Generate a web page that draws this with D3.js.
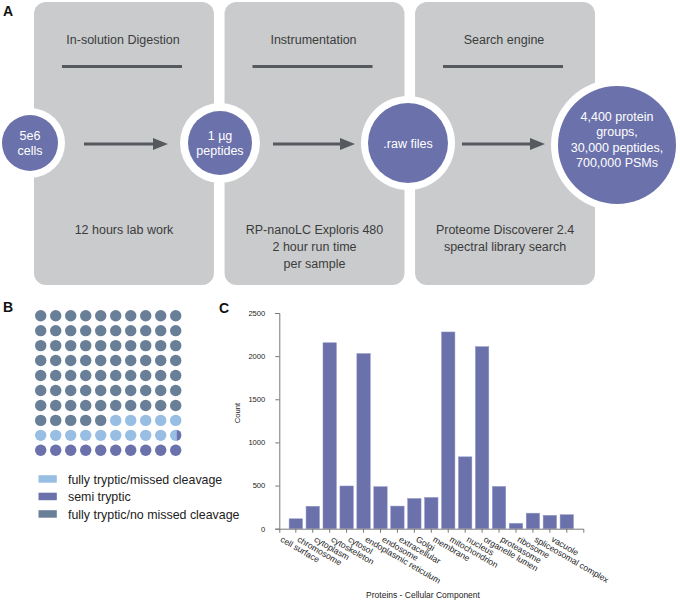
<!DOCTYPE html>
<html>
<head>
<meta charset="utf-8">
<script src="https://cdn.jsdelivr.net/npm/d3@7"></script>
<style>
  html, body { margin: 0; padding: 0; background: #fff; }
  svg { display: block; font-family: "Liberation Sans", Arial, sans-serif; }
</style>
</head>
<body>
<svg id="fig" width="680" height="602"></svg>
<script>
// ---------------- DATA ----------------
// Panel A: workflow
const stepTitles = ["In-solution Digestion", "Instrumentation", "Search engine"];
const stepNotes = [
  ["12 hours lab work"],
  ["RP-nanoLC Exploris 480", "2 hour run time", "per sample"],
  ["Proteome Discoverer 2.4", "spectral library search"]
];
const nodeLabels = [
  ["5e6", "cells"],
  ["1 \u00b5g", "peptides"],
  [".raw files"],
  ["4,400 protein", "groups,", "30,000 peptides,", "700,000 PSMs"]
];

// Panel B: waffle (percent of peptides)
const waffleCategories = ["semi tryptic", "fully tryptic/missed cleavage", "fully tryptic/no missed cleavage"];
const waffleValues = [10.4, 14.6, 75.0];
const legendOrder = ["fully tryptic/missed cleavage", "semi tryptic", "fully tryptic/no missed cleavage"];

// Panel C: cellular component counts
const components = ["cell surface", "chromosome", "cytoplasm", "cytoskeleton", "cytosol",
  "endoplasmic reticulum", "endosome", "extracellular", "Golgi", "membrane", "mitochondrion",
  "nucleus", "organelle lumen", "proteasome", "ribosome", "spliceosomal complex", "vacuole"];
const counts = [115, 260, 2155, 495, 2030, 487, 262, 350, 362, 2280, 833, 2110, 490, 62, 180, 155, 162];
const countTicks = [0, 500, 1000, 1500, 2000, 2500];

// ---------------- STYLE ----------------
const purple = "#6b71ab";
const boxGray = "#c9cbcd";
const ink = "#3c3c3c";
const lineGray = "#56595d";
const waffleColors = d3.scaleOrdinal()
  .domain(waffleCategories)
  .range(["#6b71ab", "#98bfe3", "#697f98"]);

const svg = d3.select("#fig");

// panel letters
svg.selectAll("text.panel").data([["A", 3, 16], ["B", 3, 312], ["C", 219, 313]])
  .join("text").attr("class", "panel")
  .attr("x", d => d[1]).attr("y", d => d[2])
  .attr("font-size", 14).attr("font-weight", "bold").attr("fill", "#111")
  .text(d => d[0]);

// ---------------- PANEL A ----------------
const A = svg.append("g");
const boxX = d3.scaleBand().domain(d3.range(stepTitles.length)).range([34, 595]).paddingInner(0.0555);
const boxTop = 2, boxBottom = 285;

const boxes = A.selectAll("g.step").data(stepTitles).join("g").attr("class", "step");
boxes.append("rect")
  .attr("x", (d, i) => boxX(i)).attr("y", boxTop)
  .attr("width", boxX.bandwidth()).attr("height", boxBottom - boxTop)
  .attr("rx", 12).attr("ry", 12).attr("fill", boxGray);
boxes.append("text")
  .attr("x", (d, i) => boxX(i) + boxX.bandwidth() / 2 - 1).attr("y", 44)
  .attr("text-anchor", "middle").attr("font-size", 12.5).attr("fill", ink)
  .text(d => d);
boxes.append("line")
  .attr("x1", (d, i) => boxX(i) + boxX.bandwidth() / 2 - 62)
  .attr("x2", (d, i) => boxX(i) + boxX.bandwidth() / 2 + 58)
  .attr("y1", 66.5).attr("y2", 66.5)
  .attr("stroke", lineGray).attr("stroke-width", 3);
boxes.each(function (d, i) {
  d3.select(this).selectAll("text.note").data(stepNotes[i]).join("text").attr("class", "note")
    .attr("x", boxX(i) + boxX.bandwidth() / 2).attr("y", (t, j) => 234 + j * 16.8)
    .attr("text-anchor", "middle").attr("font-size", 12.5).attr("fill", ink)
    .text(t => t);
});
// arrows
const arrows = [[84, 168], [273, 355], [462, 545]];
A.selectAll("g.arrow").data(arrows).join("g").attr("class", "arrow")
  .each(function (d) {
    const g = d3.select(this);
    g.append("line").attr("x1", d[0]).attr("x2", d[1] - 10).attr("y1", 144).attr("y2", 144)
      .attr("stroke", lineGray).attr("stroke-width", 3);
    g.append("path")
      .attr("d", `M${d[1]},144 L${d[1] - 15},138 L${d[1] - 15},150 Z`)
      .attr("fill", lineGray);
  });
// nodes
const nodes = [
  { cx: 30, cy: 143, r: 28, R: 35 },
  { cx: 220, cy: 143, r: 32, R: 40 },
  { cx: 408, cy: 143, r: 40, R: 47 },
  { cx: 617, cy: 145, r: 59, R: 66 }
];
const ng = A.selectAll("g.node").data(nodes).join("g").attr("class", "node");
ng.append("circle").attr("cx", d => d.cx).attr("cy", d => d.cy).attr("r", d => d.R).attr("fill", "#fff");
ng.append("circle").attr("cx", d => d.cx).attr("cy", d => d.cy).attr("r", d => d.r).attr("fill", purple);
ng.each(function (d, i) {
  const lines = nodeLabels[i];
  const lh = 15.3;
  const y0 = (i === 3 ? d.cy - 5.5 : d.cy) - (lines.length - 1) * lh / 2 + 4.5;
  d3.select(this).selectAll("text").data(lines).join("text")
    .attr("x", d.cx).attr("y", (t, j) => y0 + j * lh)
    .attr("text-anchor", "middle").attr("font-size", 12.5).attr("fill", "#fff")
    .text(t => t);
});

// ---------------- PANEL B ----------------
const B = svg.append("g");
const wx = d3.scaleLinear().domain([0, 9]).range([40.7, 175.7]);
const wy = d3.scaleLinear().domain([0, 9]).range([315.7, 450.3]);
const wr = 5.7;
const cum = d3.cumsum(waffleValues);
const starts = waffleValues.map((v, i) => cum[i] - v);
const cells = d3.range(100).map(k => {
  const row = 9 - Math.floor(k / 10), col = 9 - (k % 10);
  const parts = waffleCategories.map((c, i) => ({
    cat: c,
    frac: Math.max(0, Math.min(k + 1, cum[i]) - Math.max(k, starts[i]))
  })).filter(p => p.frac > 0);
  return { k, row, col, parts };
});
const defs = svg.append("defs");
cells.forEach(c => {
  const cx = wx(c.col), cy = wy(c.row);
  const last = c.parts[c.parts.length - 1];
  B.append("circle").attr("cx", cx).attr("cy", cy).attr("r", wr).attr("fill", waffleColors(last.cat));
  if (c.parts.length > 1) {
    // earlier categories fill from the right
    let right = cx + wr;
    c.parts.slice(0, -1).forEach((p, pi) => {
      const w = p.frac * 2 * wr;
      const id = `clip${c.k}_${pi}`;
      defs.append("clipPath").attr("id", id).append("rect")
        .attr("x", right - w).attr("y", cy - wr).attr("width", w).attr("height", 2 * wr);
      B.append("circle").attr("cx", cx).attr("cy", cy).attr("r", wr)
        .attr("fill", waffleColors(p.cat)).attr("clip-path", `url(#${id})`);
      right -= w;
    });
  }
});
// legend
const lg = B.selectAll("g.leg").data(legendOrder).join("g").attr("class", "leg")
  .attr("transform", (d, i) => `translate(0, ${479 + i * 17.5})`);
lg.append("rect").attr("x", 38.5).attr("y", -3.8).attr("width", 18.3).attr("height", 7.5)
  .attr("fill", d => waffleColors(d));
lg.append("text").attr("x", 68).attr("y", 4.5).attr("font-size", 12.4).attr("fill", "#222")
  .text(d => d);

// ---------------- PANEL C ----------------
const C = svg.append("g");
const x = d3.scaleBand().domain(components).range([279.3, 583.3]).paddingInner(0.21).paddingOuter(0.58);
const y = d3.scaleLinear().domain([0, 2500]).range([528.7, 313]);

C.selectAll("rect.bar").data(components).join("rect").attr("class", "bar")
  .attr("x", d => x(d)).attr("width", x.bandwidth())
  .attr("y", (d, i) => y(counts[i])).attr("height", (d, i) => y(0) - y(counts[i]))
  .attr("fill", purple).attr("stroke", "#8f94c6").attr("stroke-width", 0.5);

// y axis
const yAxis = C.append("g").attr("transform", "translate(279.3,0)")
  .call(d3.axisLeft(y).tickValues(countTicks).tickSize(4).tickPadding(10).tickFormat(d3.format("d")));
yAxis.select(".domain").attr("stroke", "#777");
yAxis.selectAll(".tick line").attr("stroke", "#777");
yAxis.selectAll(".tick text").attr("font-size", 7.6).attr("fill", "#222")
  .attr("font-family", "Liberation Sans, Arial, sans-serif");

// x axis: line with ticks at band centres and ends
const xAxis = C.append("g").attr("transform", `translate(0,${y(0)})`)
  .call(d3.axisBottom(x).tickSize(4).tickSizeOuter(4).tickFormat(""));
xAxis.select(".domain").attr("stroke", "#777");
xAxis.selectAll(".tick line").attr("stroke", "#777");
C.selectAll("text.xl").data(components).join("text").attr("class", "xl")
  .attr("transform", d => `translate(${x(d) + x.bandwidth() / 2 - 13},${y(0) + 7}) rotate(30)`)
  .attr("dy", "0.72em").attr("font-size", 8.6).attr("fill", "#222")
  .text(d => d);

C.append("text").attr("transform", "translate(240,413) rotate(-90)")
  .attr("text-anchor", "middle").attr("font-size", 7.6).attr("fill", "#222").text("Count");
C.append("text").attr("x", 423).attr("y", 598)
  .attr("text-anchor", "middle").attr("font-size", 8.5).attr("fill", "#222")
  .text("Proteins - Cellular Component");
</script>
</body>
</html>
